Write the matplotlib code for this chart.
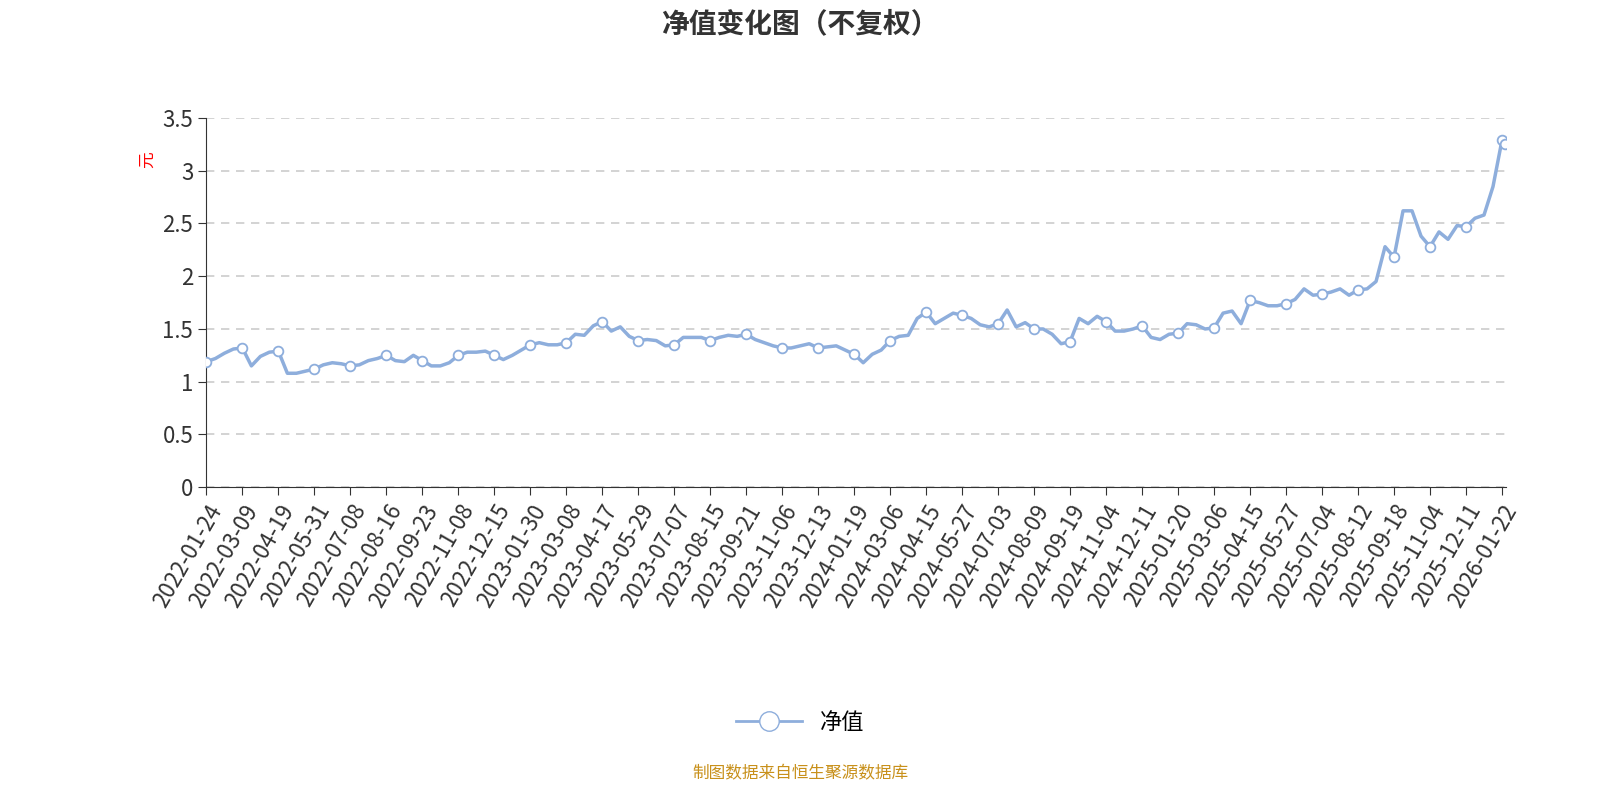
import matplotlib
matplotlib.use("Agg")
import matplotlib.pyplot as plt
from matplotlib.lines import Line2D

plt.rcParams['font.family'] = ['Noto Sans CJK SC', 'DejaVu Sans']

tick_labels = ["2022-01-24","2022-03-09","2022-04-19","2022-05-31","2022-07-08","2022-08-16","2022-09-23",
"2022-11-08","2022-12-15","2023-01-30","2023-03-08","2023-04-17","2023-05-29","2023-07-07","2023-08-15",
"2023-09-21","2023-11-06","2023-12-13","2024-01-19","2024-03-06","2024-04-15","2024-05-27","2024-07-03",
"2024-08-09","2024-09-19","2024-11-04","2024-12-11","2025-01-20","2025-03-06","2025-04-15","2025-05-27",
"2025-07-04","2025-08-12","2025-09-18","2025-11-04","2025-12-11","2026-01-22"]

nav = [1.19,1.22,1.27,1.31,1.32,1.15,1.24,1.28,1.29,1.08,1.08,1.10,1.12,1.16,1.18,1.17,
1.15,1.16,1.20,1.22,1.25,1.20,1.19,1.25,1.20,1.15,1.15,1.18,1.25,1.28,1.28,1.29,
1.25,1.21,1.25,1.30,1.35,1.37,1.35,1.35,1.37,1.45,1.44,1.53,1.57,1.48,1.52,1.43,
1.39,1.40,1.39,1.34,1.35,1.42,1.42,1.42,1.39,1.42,1.44,1.43,1.45,1.40,1.37,1.34,
1.32,1.32,1.34,1.36,1.32,1.33,1.34,1.30,1.26,1.18,1.26,1.30,1.39,1.43,1.44,1.60,
1.66,1.55,1.60,1.65,1.63,1.60,1.54,1.52,1.55,1.68,1.52,1.56,1.50,1.50,1.45,1.36,
1.38,1.60,1.55,1.62,1.57,1.48,1.48,1.50,1.53,1.42,1.40,1.45,1.46,1.55,1.54,1.50,
1.51,1.65,1.67,1.55,1.77,1.75,1.72,1.72,1.74,1.78,1.88,1.82,1.83,1.85,1.88,1.82,
1.87,1.88,1.95,2.28,2.18,2.62,2.62,2.38,2.28,2.42,2.35,2.48,2.47,2.55,2.58,2.85,
3.29,3.25]

fig = plt.figure(figsize=(16, 8), dpi=100)
ax = fig.add_axes([0.129, 0.391, 0.812, 0.4615])
color = "#8eaedc"
x = list(range(len(nav) - 1)) + [len(nav) - 2 + 0.35]
ax.plot(x, nav, color=color, lw=2.5, zorder=3)
mk = list(range(0, 145, 4)) + [145]
ax.plot([x[i] for i in mk], [nav[i] for i in mk], ls='none', marker='o', ms=7, mfc='white', mec=color, mew=1.3, zorder=4)

ax.set_xlim(0, 144.4)
ax.set_ylim(0, 3.5)
ax.set_yticks([0, 0.5, 1, 1.5, 2, 2.5, 3, 3.5])
ax.set_yticklabels(["0", "0.5", "1", "1.5", "2", "2.5", "3", "3.5"], fontsize=16, color="#333")
ax.set_xticks(list(range(0, 145, 4)))
ax.set_xticklabels(tick_labels, rotation=60, ha='right', rotation_mode='anchor', fontsize=16, color="#333")
ax.yaxis.grid(True, ls=(0, (5, 4)), color="#cccccc", lw=1.2)
ax.set_axisbelow(True)
for s in ['top', 'right']:
    ax.spines[s].set_visible(False)
ax.spines['left'].set_color("#333")
ax.spines['bottom'].set_color("#333")
ax.tick_params(axis='y', length=6, color="#333")
ax.tick_params(axis='x', length=6, color="#333")
fig.text(0.092, 0.80, "元", color="red", fontsize=12, rotation=90, ha='center', va='center')

fig.text(0.5, 0.97, "净值变化图（不复权）", ha='center', va='center', fontsize=20, fontweight='bold', color="#333")
h = Line2D([0], [0], color=color, lw=2, marker='o', ms=14, mfc='white', mec=color)
fig.legend([h], ["净值"], loc='center', bbox_to_anchor=(0.5, 0.097), frameon=False, fontsize=16, handlelength=3)
fig.text(0.5, 0.033, "制图数据来自恒生聚源数据库", ha='center', va='center', fontsize=12, color="#c8901a")
fig.savefig("out.png")
